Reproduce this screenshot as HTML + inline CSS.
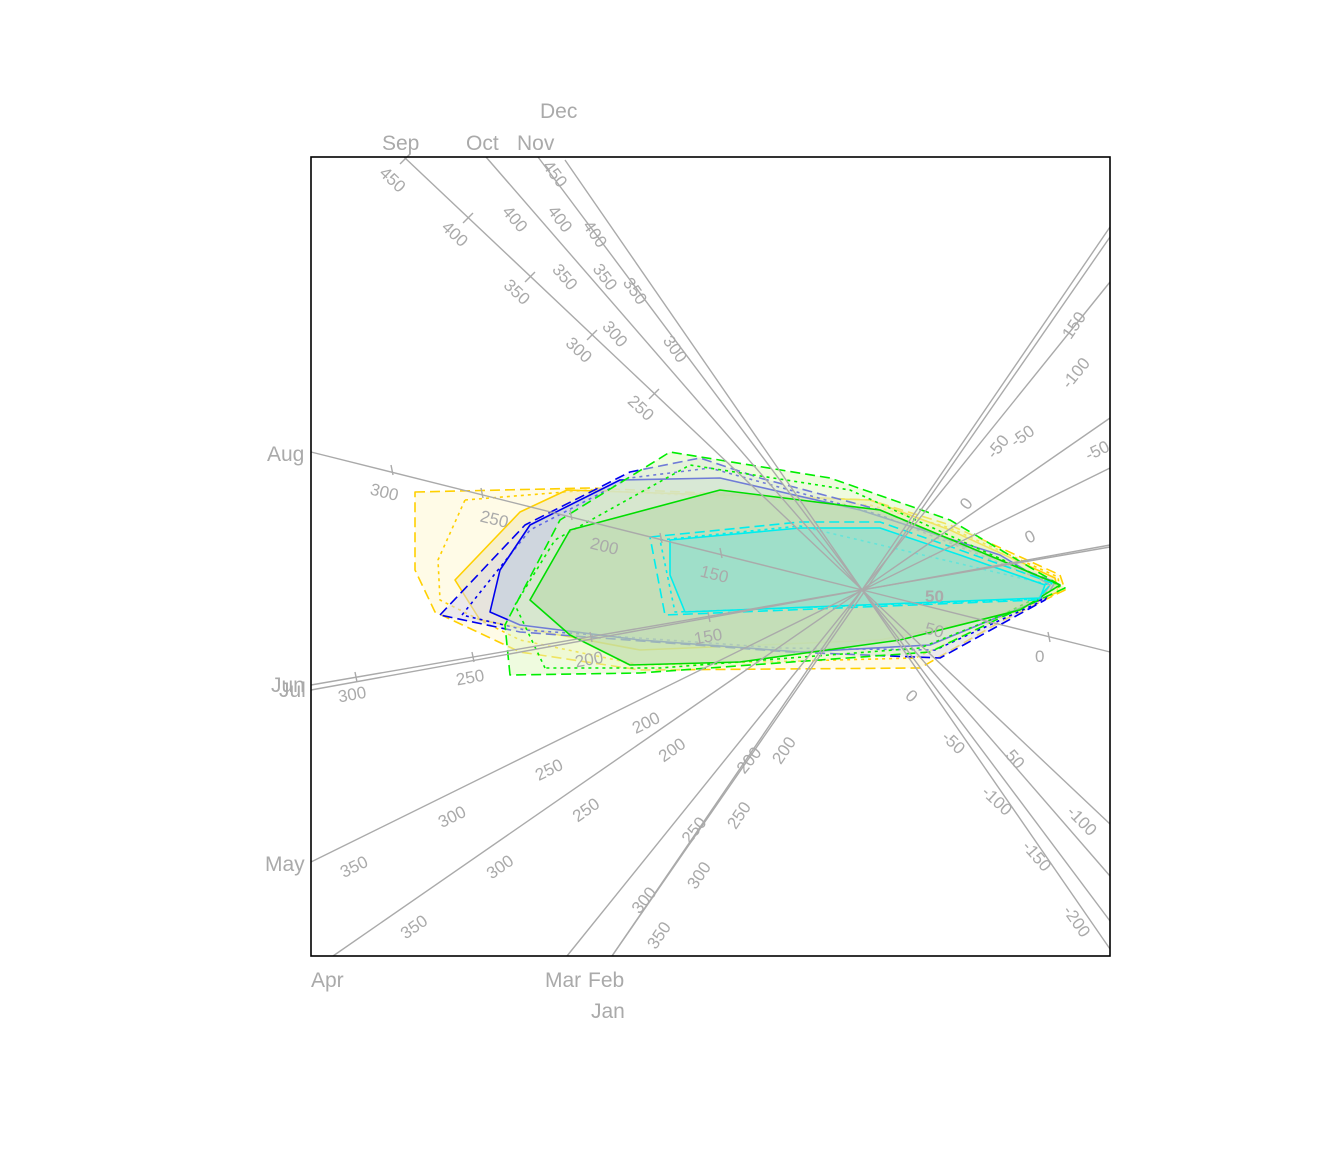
<!DOCTYPE html>
<html><head><meta charset="utf-8"><style>
html,body{margin:0;padding:0;background:#fff;}
svg{display:block;font-family:"Liberation Sans",sans-serif;}
</style></head><body>
<svg width="1344" height="1152" viewBox="0 0 1344 1152" xmlns="http://www.w3.org/2000/svg">
<rect x="0" y="0" width="1344" height="1152" fill="#fff"/>
<g stroke-width="1.6" stroke-linejoin="round">
<polygon points="415,492 590,488 870,500 950,525 1060,575 1065,590 1000,622 920,668 640,670 520,652 435,612 415,570" fill="#fff8d0" fill-opacity="0.5" stroke="#ffd000" stroke-dasharray="10,5"/>
<polygon points="465,500 590,490 870,505 950,528 1058,577 1060,592 995,620 915,658 640,665 520,640 440,600 438,560" fill="none" stroke="#ffd000" stroke-dasharray="3,4"/>
<polygon points="520,512 567,490 870,500 950,530 1055,578 1058,592 990,618 880,640 640,650 480,620 455,580" fill="#f0e6b0" fill-opacity="0.5" stroke="#ffd000"/>
<polygon points="440,615 525,525 630,472 700,458 760,478 880,510 960,545 1055,582 1045,600 940,658 790,652 520,632" fill="#d8d8f0" fill-opacity="0.5" stroke="#0000ee" stroke-dasharray="10,5"/>
<polygon points="462,615 530,530 630,478 710,468 880,515 1050,583 1040,602 935,650 780,648 525,630" fill="none" stroke="#0000ee" stroke-dasharray="3,4"/>
<polygon points="490,612 500,570 530,525 620,480 720,478 860,510 1000,555 1050,585 1040,600 930,645 800,652 640,640 520,625" fill="#b8c8e0" fill-opacity="0.5" stroke="#0000ee"/>
<polygon points="510,675 505,625 560,520 670,452 830,478 950,520 1065,588 1000,618 930,652 640,673" fill="#e0f8c0" fill-opacity="0.5" stroke="#00ee00" stroke-dasharray="10,5"/>
<polygon points="545,668 515,605 555,540 690,465 850,490 1060,586 1000,616 920,648 660,668" fill="none" stroke="#00ee00" stroke-dasharray="3,4"/>
<polygon points="530,600 570,530 720,490 880,510 1000,560 1060,585 1020,610 900,640 740,662 630,665 570,635" fill="#b8d8a8" fill-opacity="0.6" stroke="#00dd00"/>
<polygon points="650,537 800,522 880,522 960,550 1052,583 1036,600 665,615" fill="none" stroke="#00eeee" stroke-dasharray="10,5"/>
<polygon points="660,540 800,526 1050,585 1038,599 675,612" fill="none" stroke="#00eeee" stroke-dasharray="3,4"/>
<polygon points="670,540 800,528 880,528 960,555 1045,585 1040,598 685,612 670,575" fill="#90e0d0" fill-opacity="0.7" stroke="#00eeee"/>
</g>
<g stroke="#aaa" stroke-width="1.4">
<line x1="404" y1="157" x2="1110" y2="824"/>
<line x1="486" y1="157" x2="1110" y2="876"/>
<line x1="538" y1="157" x2="1110" y2="921"/>
<line x1="565" y1="160" x2="1110" y2="949"/>
<line x1="311" y1="452" x2="1110" y2="652"/>
<line x1="311" y1="685" x2="1110" y2="547"/>
<line x1="311" y1="690" x2="1110" y2="545"/>
<line x1="311" y1="862" x2="1110" y2="468"/>
<line x1="333" y1="956" x2="1110" y2="418"/>
<line x1="567" y1="956" x2="1110" y2="282"/>
<line x1="612" y1="956" x2="1110" y2="227"/>
<line x1="612" y1="956" x2="1110" y2="237"/>
<!-- a few tick marks -->
<line x1="400" y1="164" x2="410" y2="154"/>
<line x1="463" y1="223" x2="473" y2="213"/>
<line x1="525" y1="282" x2="535" y2="272"/>
<line x1="587" y1="340" x2="597" y2="330"/>
<line x1="649" y1="399" x2="659" y2="389"/>
<line x1="391" y1="465" x2="393" y2="475"/>
<line x1="481" y1="488" x2="483" y2="498"/>
<line x1="570" y1="510" x2="572" y2="520"/>
<line x1="660" y1="533" x2="662" y2="543"/>
<line x1="720" y1="548" x2="722" y2="558"/>
<line x1="1048" y1="632" x2="1050" y2="642"/>
<line x1="355" y1="672" x2="357" y2="682"/>
<line x1="472" y1="652" x2="474" y2="662"/>
<line x1="590" y1="632" x2="592" y2="642"/>
<line x1="708" y1="612" x2="710" y2="622"/>
</g>
<g fill="#aaa" font-size="17">
<text x="378" y="185" transform="rotate(43 392 180)">450</text>
<text x="440" y="240" transform="rotate(43 455 235)">400</text>
<text x="502" y="298" transform="rotate(43 517 293)">350</text>
<text x="564" y="356" transform="rotate(43 579 351)">300</text>
<text x="626" y="414" transform="rotate(43 641 409)">250</text>
<text x="500" y="225" transform="rotate(49 515 220)">400</text>
<text x="550" y="283" transform="rotate(49 565 278)">350</text>
<text x="600" y="340" transform="rotate(49 615 335)">300</text>
<text x="540" y="180" transform="rotate(53 555 175)">450</text>
<text x="545" y="225" transform="rotate(53 560 220)">400</text>
<text x="590" y="283" transform="rotate(53 605 278)">350</text>
<text x="580" y="240" transform="rotate(55 595 235)">400</text>
<text x="620" y="297" transform="rotate(55 635 292)">350</text>
<text x="660" y="355" transform="rotate(55 675 350)">300</text>
<text x="370" y="498" transform="rotate(14 385 493)">300</text>
<text x="480" y="525" transform="rotate(14 495 520)">250</text>
<text x="590" y="552" transform="rotate(14 605 547)">200</text>
<text x="700" y="580" transform="rotate(14 715 575)">150</text>
<text x="338" y="700" transform="rotate(-10 353 695)">300</text>
<text x="456" y="683" transform="rotate(-10 471 678)">250</text>
<text x="575" y="665" transform="rotate(-10 590 660)">200</text>
<text x="694" y="642" transform="rotate(-10 709 637)">150</text>
<text x="340" y="872" transform="rotate(-26 355 867)">350</text>
<text x="438" y="822" transform="rotate(-26 453 817)">300</text>
<text x="535" y="775" transform="rotate(-26 550 770)">250</text>
<text x="632" y="728" transform="rotate(-26 647 723)">200</text>
<text x="400" y="932" transform="rotate(-35 415 927)">350</text>
<text x="486" y="872" transform="rotate(-35 501 867)">300</text>
<text x="572" y="815" transform="rotate(-35 587 810)">250</text>
<text x="658" y="755" transform="rotate(-35 673 750)">200</text>
<text x="630" y="905" transform="rotate(-51 645 900)">300</text>
<text x="680" y="835" transform="rotate(-51 695 830)">250</text>
<text x="735" y="765" transform="rotate(-51 750 760)">200</text>
<text x="645" y="940" transform="rotate(-56 660 935)">350</text>
<text x="685" y="880" transform="rotate(-56 700 875)">300</text>
<text x="725" y="820" transform="rotate(-56 740 815)">250</text>
<text x="770" y="755" transform="rotate(-56 785 750)">200</text>
<text x="1035" y="662">0</text>
<text x="925" y="602" font-weight="bold">50</text>
<text x="925" y="636" transform="rotate(14 935 630)">50</text>
<text x="905" y="705" transform="rotate(43 915 700)">0</text>
<text x="940" y="750" transform="rotate(43 955 745)">-50</text>
<text x="980" y="805" transform="rotate(43 995 800)">-100</text>
<text x="1020" y="860" transform="rotate(49 1035 855)">-150</text>
<text x="1060" y="925" transform="rotate(55 1075 920)">-200</text>
<text x="1005" y="765" transform="rotate(49 1015 760)">50</text>
<text x="1065" y="825" transform="rotate(45 1080 820)">-100</text>
<text x="1025" y="540" transform="rotate(-26 1035 535)">0</text>
<text x="1085" y="455" transform="rotate(-26 1100 450)">-50</text>
<text x="960" y="505" transform="rotate(-51 970 500)">0</text>
<text x="985" y="450" transform="rotate(-51 1000 445)">-50</text>
<text x="1010" y="440" transform="rotate(-35 1025 435)">-50</text>
<text x="1060" y="380" transform="rotate(-51 1075 375)">-100</text>
<text x="1060" y="330" transform="rotate(-56 1075 325)">150</text>
</g>
<rect x="311" y="157" width="799" height="799" fill="none" stroke="#000" stroke-width="1.6"/>
<g fill="#aaa" font-size="21">
<text x="382" y="150">Sep</text>
<text x="466" y="150">Oct</text>
<text x="517" y="150">Nov</text>
<text x="540" y="118">Dec</text>
<text x="267" y="461">Aug</text>
<text x="271" y="692">Jun</text>
<text x="279" y="697">Jul</text>
<text x="265" y="871">May</text>
<text x="311" y="987">Apr</text>
<text x="545" y="987">Mar</text>
<text x="588" y="987">Feb</text>
<text x="591" y="1018">Jan</text>
</g>
</svg>
</body></html>
